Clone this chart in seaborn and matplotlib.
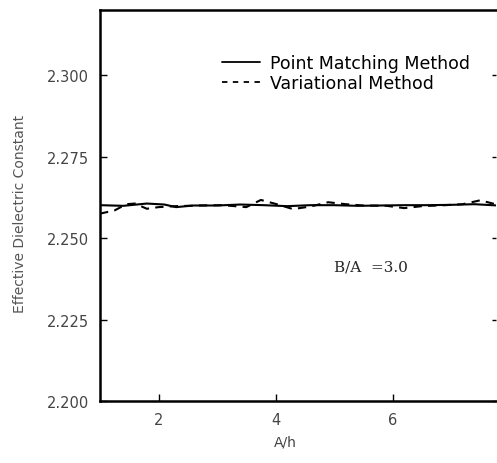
import matplotlib
matplotlib.use("Agg")
import matplotlib.pyplot as plt
import seaborn as sns
import pandas as pd

# Data
pm_x = [1.0, 1.4, 1.8, 2.1, 2.3, 2.6, 3.0, 3.4, 3.8, 4.2, 4.6, 5.0, 5.4, 5.8, 6.2, 6.6, 7.0, 7.4, 7.8]
pm_y = [2.2601, 2.2599, 2.2606, 2.2603, 2.2595, 2.2600, 2.2600, 2.2603, 2.2601, 2.2598,
        2.2601, 2.2601, 2.2599, 2.2600, 2.2601, 2.2601, 2.2602, 2.2604, 2.2600]
var_x = [1.0, 1.25, 1.45, 1.6, 1.8, 2.0, 2.3, 2.7, 3.1, 3.5, 3.75, 4.0, 4.3, 4.6, 4.9,
         5.2, 5.5, 5.9, 6.2, 6.5, 6.9, 7.2, 7.5, 7.8]
var_y = [2.2575, 2.2585, 2.2604, 2.2606, 2.2590, 2.2595, 2.2598, 2.2600, 2.2601, 2.2595,
         2.2617, 2.2605, 2.2589, 2.2597, 2.2610, 2.2604, 2.2600, 2.2599, 2.2592, 2.2598,
         2.2601, 2.2604, 2.2616, 2.2602]
x_ticks = [2, 4, 6]
y_ticks = [2.200, 2.225, 2.250, 2.275, 2.300]
y_tick_labels = ["2.200", "2.225", "2.250", "2.275", "2.300"]
series_names = ["Point Matching Method", "Variational Method"]

df = pd.concat([
    pd.DataFrame({"A/h": pm_x, "eps": pm_y, "method": series_names[0]}),
    pd.DataFrame({"A/h": var_x, "eps": var_y, "method": series_names[1]}),
])

sns.set_style("ticks")
plt.rcParams["font.family"] = ["DejaVu Sans"]

fig = plt.figure(figsize=(4.97, 4.64), dpi=100)
ax = fig.add_axes([100 / 497, 1 - 402 / 464, (495.5 - 100) / 497, (402 - 11) / 464])

sns.lineplot(data=df, x="A/h", y="eps", hue="method", style="method",
             palette=["black", "black"], dashes=[(None, None), (4, 3)],
             linewidth=1.5, ax=ax, legend=False, sort=False)

ax.set_xlim(1.0, 7.76)
ax.set_ylim(2.2, 2.32)
ax.set_xticks(x_ticks)
ax.set_yticks(y_ticks)
ax.set_yticklabels(y_tick_labels)
ax.tick_params(direction="in", length=5, width=1, colors="black",
               labelcolor="#444444", labelsize=10.5, pad=8)
ax.tick_params(axis="y", which="major", right=True)
ax.spines["right"].set_visible(False)
for s in ax.spines.values():
    s.set_linewidth(1.8)
    s.set_color("black")
for t in ax.yaxis.get_major_ticks():
    t.tick2line.set_markersize(3)

ax.set_xlabel("A/h", color="#444444", fontsize=10)
ax.xaxis.set_label_coords((285 - 100) / 395.5, -0.085)
ax.set_ylabel("Effective Dielectric Constant", color="#555555", fontsize=10)
ax.yaxis.set_label_coords(-0.185, 0.48)

from matplotlib.lines import Line2D
handles = [Line2D([], [], color="black", lw=1.3),
           Line2D([], [], color="black", lw=1.3, dashes=(3, 3))]
leg = ax.legend(handles, series_names, loc="upper left", bbox_to_anchor=(0.29, 0.905),
                frameon=False, fontsize=12.5, handlelength=2.2, handletextpad=0.6,
                labelspacing=0.1, borderaxespad=0)
for t in leg.get_texts():
    t.set_color("black")

ax.text(5.0, 2.2414, "B/A  =3.0", fontsize=11, family="DejaVu Serif", va="center")

fig.savefig("out.png", dpi=100)
